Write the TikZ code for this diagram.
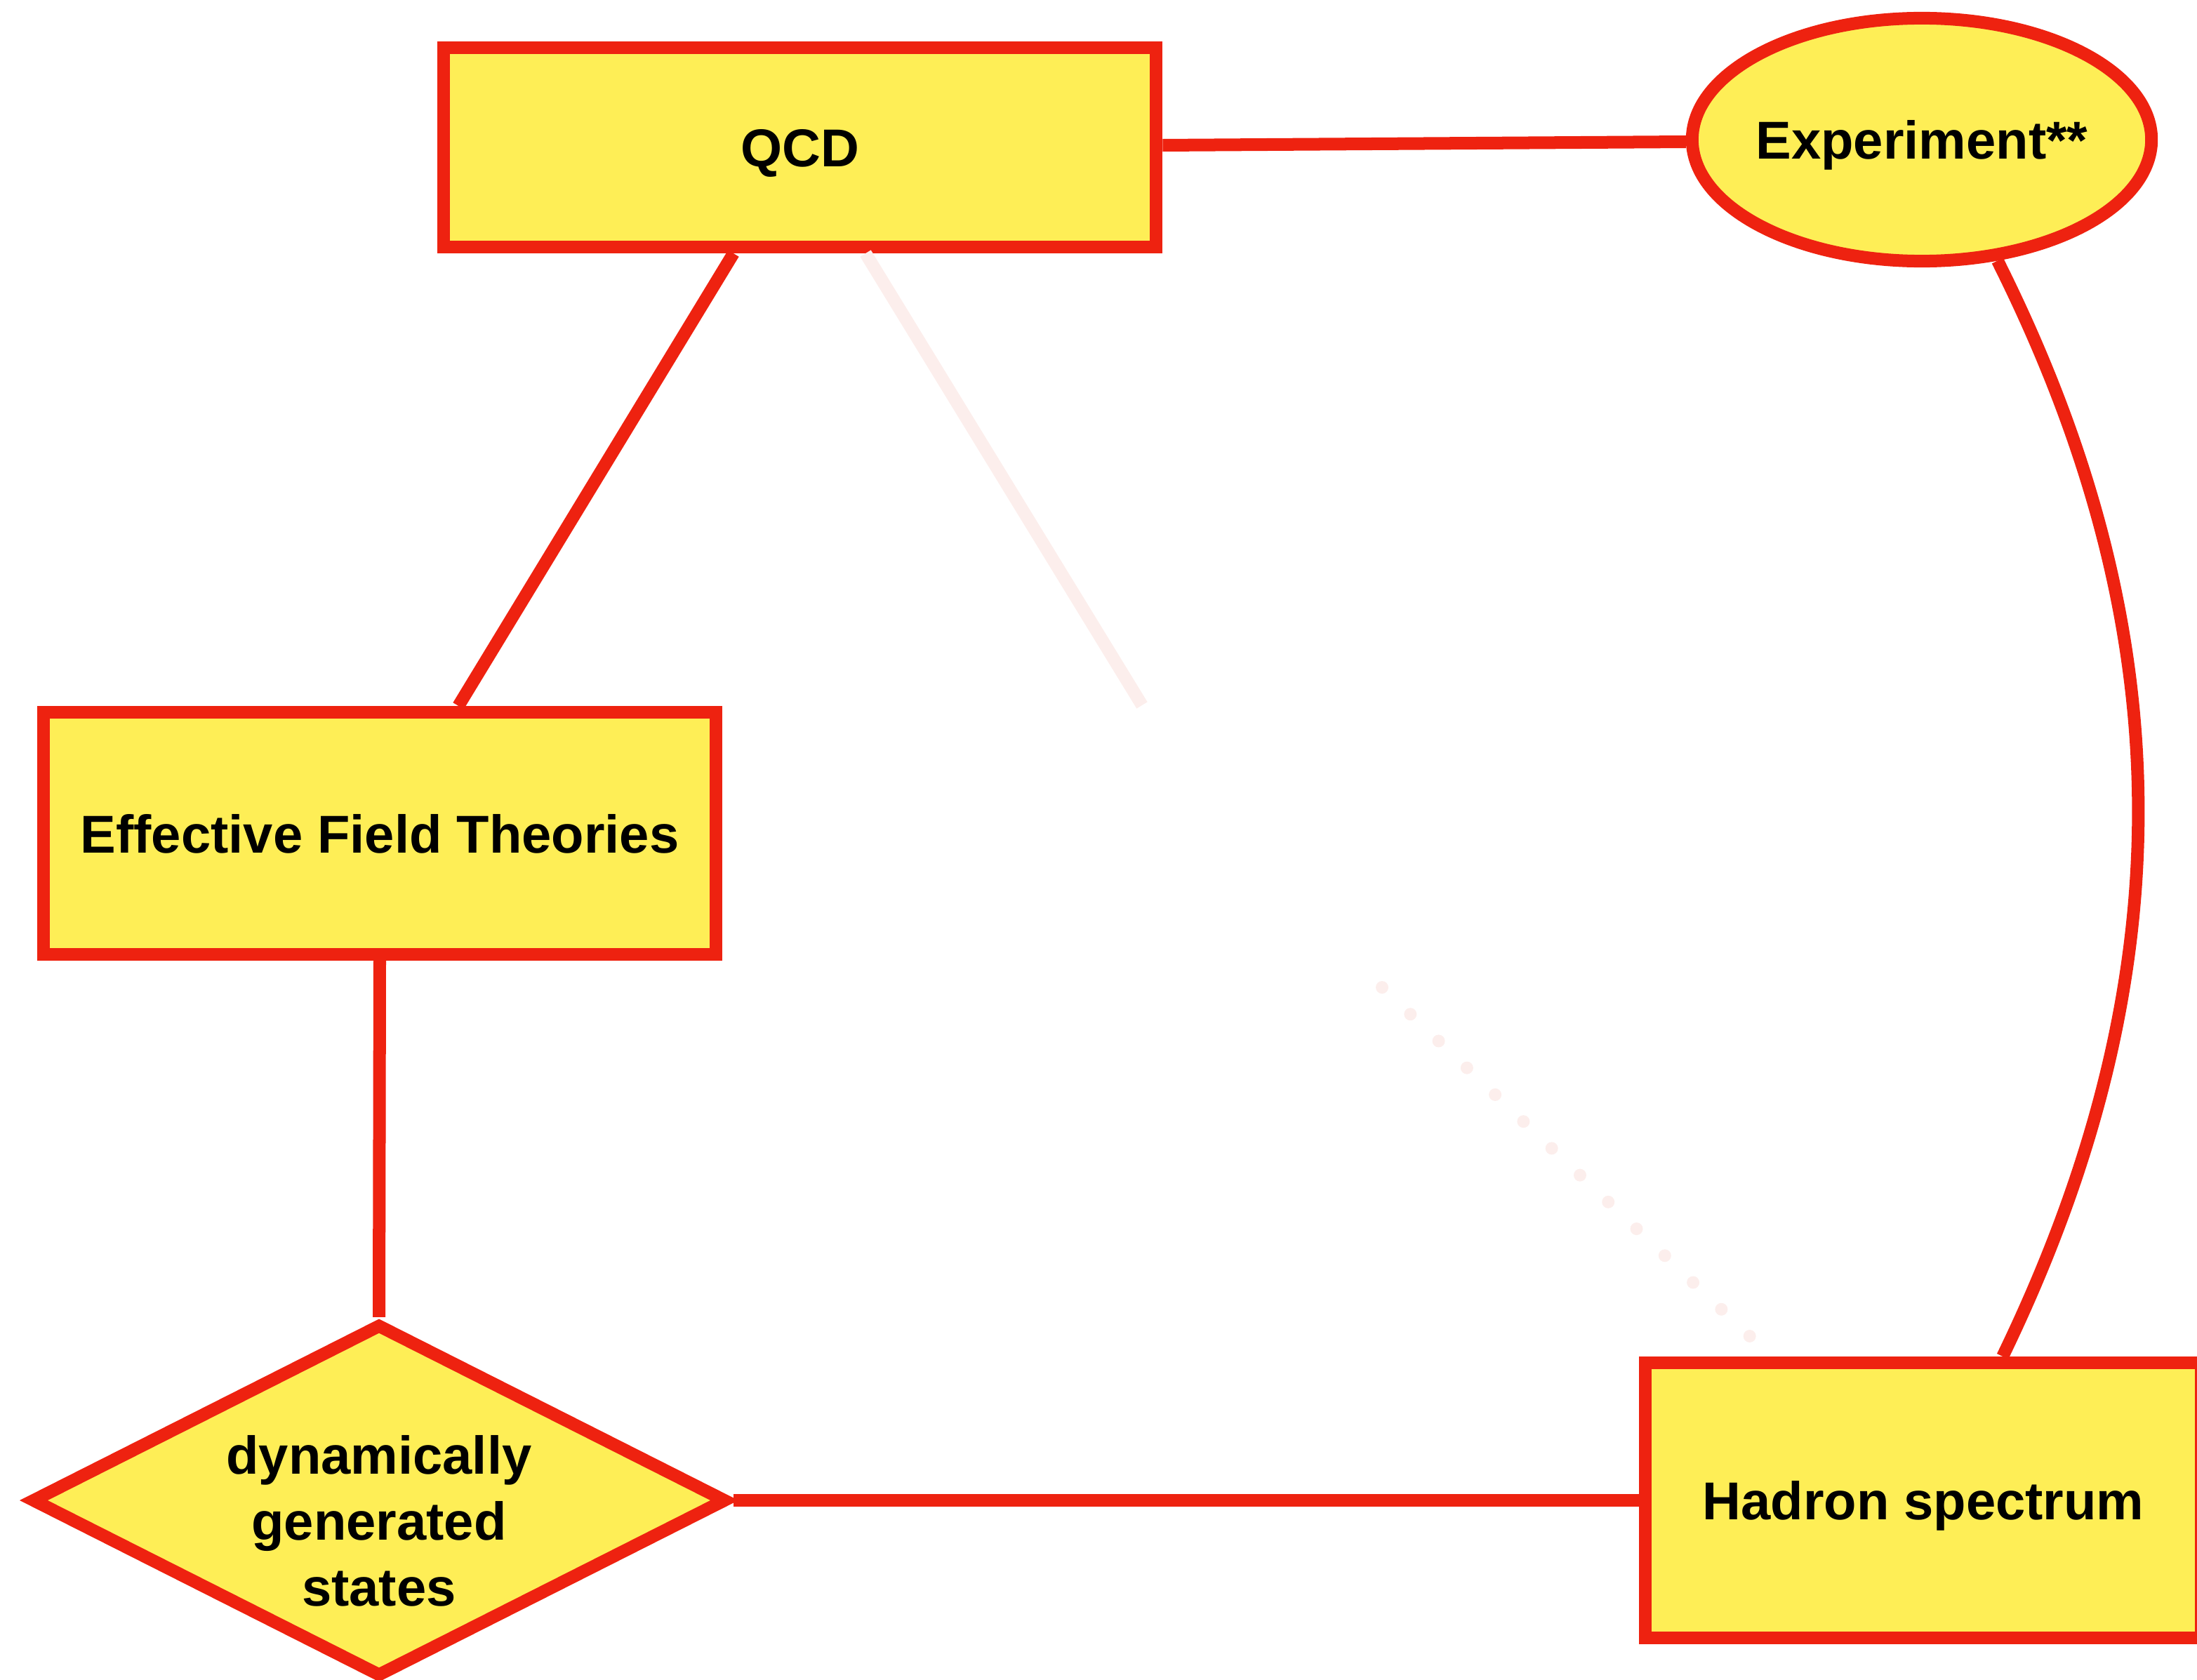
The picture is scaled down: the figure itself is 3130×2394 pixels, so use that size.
\documentclass[tikz,border=0pt]{standalone}
\usepackage{fontspec}
\setmainfont{Liberation Sans}
\usetikzlibrary{shapes.geometric}
\definecolor{boxred}{RGB}{238,34,16}
\definecolor{boxyellow}{RGB}{254,238,86}
\definecolor{faintred}{RGB}{252,238,236}
\begin{document}
\begin{tikzpicture}[x=0.01cm,y=-0.01cm,
  base/.style={draw=boxred, fill=boxyellow, line width=0.18cm, inner sep=0pt, text=black,
    font=\bfseries\fontsize{21.6}{26.7}\selectfont},
  boxnode/.style={base, rectangle, text height=0.55cm, text depth=0pt},
  ellnode/.style={base, ellipse, text height=0.55cm, text depth=0pt},
  dianode/.style={base, diamond},
  lbl/.style={align=center, inner sep=0pt, text=black, font=\bfseries\fontsize{21.6}{26.7}\selectfont},
  conn/.style={draw=boxred, line width=0.18cm},
  faint/.style={draw=faintred, line width=0.18cm},
  faintdots/.style={draw=faintred, line width=0.18cm, line cap=round, dash pattern=on 0pt off 0.555cm}
]
\useasboundingbox (0,0) rectangle (3130,2394);

\node[boxnode, minimum width=10.15cm, minimum height=2.84cm] (qcd) at (1139.5,210) {QCD};
\node[ellnode, minimum width=6.54cm, minimum height=3.46cm] (exp) at (2738,199) {\makebox[0pt]{Experiment**}};
\node[boxnode, minimum width=9.58cm, minimum height=3.45cm] (eft) at (541,1187.5) {Effective Field Theories};
\node[boxnode, minimum width=7.92cm, minimum height=3.92cm] (had) at (2740,2138) {Hadron spectrum};
\node[dianode, minimum width=9.91cm, minimum height=5.04cm] (dg) at (540,2138) {};
\node[lbl] (dgt) at (540,2167) {dynamically\\generated\\states};

\coordinate (fend) at (1627,1005);
\coordinate (dotA) at (1969,1407);
\coordinate (dotB) at (2499,1910);

\draw[conn] ([yshift=0.03cm]qcd.east) -- ([yshift=-0.03cm]exp.west);
\draw[conn] ([xshift=-0.945cm]qcd.south) -- ([xshift=1.12cm]eft.north);
\draw[faint] ([xshift=0.935cm]qcd.south) -- (fend);
\draw[conn] (eft.south) -- (dg.north);
\draw[conn] (dg.east) -- (had.west);
\draw[conn] (exp.-58.6) .. controls (3112,903) and (3112,1398) .. ([xshift=1.13cm]had.north);
\draw[faintdots] (dotA) -- (dotB);
\end{tikzpicture}
\end{document}
